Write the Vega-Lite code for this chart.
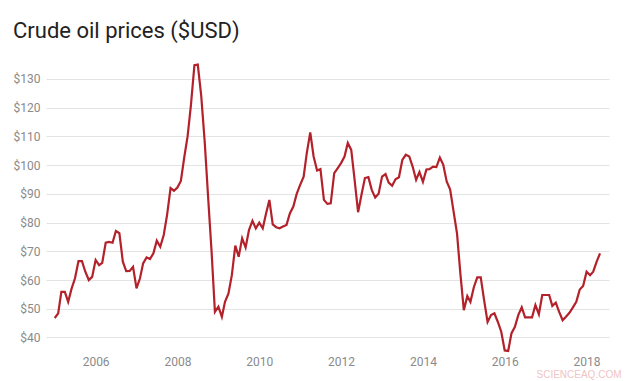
{
  "$schema": "https://vega.github.io/schema/vega-lite/v6.json",
  "width": 563,
  "height": 287,
  "autosize": {"type": "none"},
  "padding": {"left": 46, "top": 64, "right": 28, "bottom": 30},
  "background": "#ffffff",
  "config": {
    "view": {"stroke": null},
    "font": "Roboto"
  },
  "title": {
    "text": "Crude oil prices ($USD)",
    "anchor": "start",
    "frame": "bounds",
    "fontSize": 22,
    "font": "Roboto",
    "fontWeight": "normal",
    "color": "#222222",
    "offset": 17
  },
  "data": {
    "values": [
      {"date": "2005-01-01", "price": 46.8}, {"date": "2005-02-01", "price": 48.4}, {"date": "2005-03-01", "price": 55.9}, {"date": "2005-04-01", "price": 55.9},
      {"date": "2005-05-01", "price": 52.4}, {"date": "2005-06-01", "price": 57.1}, {"date": "2005-07-01", "price": 60.6}, {"date": "2005-08-01", "price": 66.6},
      {"date": "2005-09-01", "price": 66.6}, {"date": "2005-10-01", "price": 62.9}, {"date": "2005-11-01", "price": 60.0}, {"date": "2005-12-01", "price": 61.1},
      {"date": "2006-01-01", "price": 67.0}, {"date": "2006-02-01", "price": 65.2}, {"date": "2006-03-01", "price": 66.0}, {"date": "2006-04-01", "price": 73.0},
      {"date": "2006-05-01", "price": 73.3}, {"date": "2006-06-01", "price": 73.0}, {"date": "2006-07-01", "price": 77.1}, {"date": "2006-08-01", "price": 76.3},
      {"date": "2006-09-01", "price": 66.4}, {"date": "2006-10-01", "price": 63.1}, {"date": "2006-11-01", "price": 63.2}, {"date": "2006-12-01", "price": 64.6},
      {"date": "2007-01-01", "price": 57.1}, {"date": "2007-02-01", "price": 60.6}, {"date": "2007-03-01", "price": 65.8}, {"date": "2007-04-01", "price": 67.9},
      {"date": "2007-05-01", "price": 67.3}, {"date": "2007-06-01", "price": 69.3}, {"date": "2007-07-01", "price": 73.7}, {"date": "2007-08-01", "price": 71.6},
      {"date": "2007-09-01", "price": 75.7}, {"date": "2007-10-01", "price": 82.7}, {"date": "2007-11-01", "price": 92.0}, {"date": "2007-12-01", "price": 91.1},
      {"date": "2008-01-01", "price": 92.2}, {"date": "2008-02-01", "price": 94.5}, {"date": "2008-03-01", "price": 102.4}, {"date": "2008-04-01", "price": 110.0},
      {"date": "2008-05-01", "price": 121.0}, {"date": "2008-06-01", "price": 134.8}, {"date": "2008-07-01", "price": 135.0}, {"date": "2008-08-01", "price": 124.0},
      {"date": "2008-09-01", "price": 108.0}, {"date": "2008-10-01", "price": 89.0}, {"date": "2008-11-01", "price": 70.0}, {"date": "2008-12-01", "price": 48.9},
      {"date": "2009-01-01", "price": 50.7}, {"date": "2009-02-01", "price": 47.2}, {"date": "2009-03-01", "price": 52.4}, {"date": "2009-04-01", "price": 55.3},
      {"date": "2009-05-01", "price": 61.7}, {"date": "2009-06-01", "price": 72.0}, {"date": "2009-07-01", "price": 68.1}, {"date": "2009-08-01", "price": 74.5},
      {"date": "2009-09-01", "price": 71.3}, {"date": "2009-10-01", "price": 77.4}, {"date": "2009-11-01", "price": 80.6}, {"date": "2009-12-01", "price": 78.0},
      {"date": "2010-01-01", "price": 80.0}, {"date": "2010-02-01", "price": 78.0}, {"date": "2010-03-01", "price": 82.9}, {"date": "2010-04-01", "price": 87.9},
      {"date": "2010-05-01", "price": 79.4}, {"date": "2010-06-01", "price": 78.4}, {"date": "2010-07-01", "price": 78.0}, {"date": "2010-08-01", "price": 78.6},
      {"date": "2010-09-01", "price": 79.2}, {"date": "2010-10-01", "price": 83.2}, {"date": "2010-11-01", "price": 85.6}, {"date": "2010-12-01", "price": 90.0},
      {"date": "2011-01-01", "price": 93.1}, {"date": "2011-02-01", "price": 96.0}, {"date": "2011-03-01", "price": 104.2}, {"date": "2011-04-01", "price": 111.4},
      {"date": "2011-05-01", "price": 103.0}, {"date": "2011-06-01", "price": 98.1}, {"date": "2011-07-01", "price": 98.6}, {"date": "2011-08-01", "price": 87.9},
      {"date": "2011-09-01", "price": 86.5}, {"date": "2011-10-01", "price": 86.7}, {"date": "2011-11-01", "price": 97.2}, {"date": "2011-12-01", "price": 98.9},
      {"date": "2012-01-01", "price": 100.7}, {"date": "2012-02-01", "price": 103.0}, {"date": "2012-03-01", "price": 107.7}, {"date": "2012-04-01", "price": 105.3},
      {"date": "2012-05-01", "price": 94.9}, {"date": "2012-06-01", "price": 83.6}, {"date": "2012-07-01", "price": 89.6}, {"date": "2012-08-01", "price": 95.5},
      {"date": "2012-09-01", "price": 95.8}, {"date": "2012-10-01", "price": 91.4}, {"date": "2012-11-01", "price": 88.7}, {"date": "2012-12-01", "price": 90.0},
      {"date": "2013-01-01", "price": 96.0}, {"date": "2013-02-01", "price": 96.9}, {"date": "2013-03-01", "price": 93.9}, {"date": "2013-04-01", "price": 92.8},
      {"date": "2013-05-01", "price": 95.1}, {"date": "2013-06-01", "price": 95.8}, {"date": "2013-07-01", "price": 101.8}, {"date": "2013-08-01", "price": 103.6},
      {"date": "2013-09-01", "price": 103.0}, {"date": "2013-10-01", "price": 99.5}, {"date": "2013-11-01", "price": 94.9}, {"date": "2013-12-01", "price": 97.6},
      {"date": "2014-01-01", "price": 94.2}, {"date": "2014-02-01", "price": 98.5}, {"date": "2014-03-01", "price": 98.6}, {"date": "2014-04-01", "price": 99.5},
      {"date": "2014-05-01", "price": 99.3}, {"date": "2014-06-01", "price": 102.6}, {"date": "2014-07-01", "price": 100.2}, {"date": "2014-08-01", "price": 94.3},
      {"date": "2014-09-01", "price": 91.5}, {"date": "2014-10-01", "price": 84.0}, {"date": "2014-11-01", "price": 76.3}, {"date": "2014-12-01", "price": 62.3},
      {"date": "2015-01-01", "price": 49.5}, {"date": "2015-02-01", "price": 54.4}, {"date": "2015-03-01", "price": 52.4}, {"date": "2015-04-01", "price": 57.6},
      {"date": "2015-05-01", "price": 60.9}, {"date": "2015-06-01", "price": 60.9}, {"date": "2015-07-01", "price": 53.0}, {"date": "2015-08-01", "price": 45.4},
      {"date": "2015-09-01", "price": 47.8}, {"date": "2015-10-01", "price": 48.4}, {"date": "2015-11-01", "price": 45.4}, {"date": "2015-12-01", "price": 42.0},
      {"date": "2016-01-01", "price": 35.5}, {"date": "2016-02-01", "price": 35.3}, {"date": "2016-03-01", "price": 41.4}, {"date": "2016-04-01", "price": 43.7},
      {"date": "2016-05-01", "price": 47.8}, {"date": "2016-06-01", "price": 50.5}, {"date": "2016-07-01", "price": 47.0}, {"date": "2016-08-01", "price": 47.0},
      {"date": "2016-09-01", "price": 47.0}, {"date": "2016-10-01", "price": 51.3}, {"date": "2016-11-01", "price": 48.1}, {"date": "2016-12-01", "price": 54.8},
      {"date": "2017-01-01", "price": 54.8}, {"date": "2017-02-01", "price": 54.8}, {"date": "2017-03-01", "price": 51.0}, {"date": "2017-04-01", "price": 52.1},
      {"date": "2017-05-01", "price": 48.9}, {"date": "2017-06-01", "price": 46.0}, {"date": "2017-07-01", "price": 47.2}, {"date": "2017-08-01", "price": 48.6},
      {"date": "2017-09-01", "price": 50.5}, {"date": "2017-10-01", "price": 52.4}, {"date": "2017-11-01", "price": 56.7}, {"date": "2017-12-01", "price": 57.9},
      {"date": "2018-01-01", "price": 62.9}, {"date": "2018-02-01", "price": 61.7}, {"date": "2018-03-01", "price": 62.9}, {"date": "2018-04-01", "price": 66.4},
      {"date": "2018-05-01", "price": 69.3}
    ]
  },
  "mark": {"type": "line", "color": "#b3212b", "strokeWidth": 2.2, "clip": false},
  "encoding": {
    "x": {
      "field": "date",
      "type": "temporal",
      "scale": {"type": "utc", "domain": ["2004-10-15", "2018-07-20"], "nice": false},
      "axis": {
        "values": [
          {"year": 2006, "month": 1, "date": 1, "utc": true},
          {"year": 2008, "month": 1, "date": 1, "utc": true},
          {"year": 2010, "month": 1, "date": 1, "utc": true},
          {"year": 2012, "month": 1, "date": 1, "utc": true},
          {"year": 2014, "month": 1, "date": 1, "utc": true},
          {"year": 2016, "month": 1, "date": 1, "utc": true},
          {"year": 2018, "month": 1, "date": 1, "utc": true}
        ],
        "format": "%Y",
        "grid": false,
        "domain": false,
        "ticks": false,
        "labelPadding": 5,
        "labelFont": "Roboto",
        "labelFontSize": 12,
        "labelColor": "#8a8a8a",
        "title": "SCIENCEAQ.COM",
        "titleFont": "Liberation Sans",
        "titleFontSize": 10,
        "titleFontWeight": "normal",
        "titleColor": "#f0c4c4",
        "titleAnchor": "end",
        "titleAlign": "right",
        "titleBaseline": "middle",
        "titleX": 575,
        "titleY": 23.5
      }
    },
    "y": {
      "field": "price",
      "type": "quantitative",
      "scale": {"domain": [35.3, 135.2], "nice": false, "zero": false},
      "axis": {
        "values": [40, 50, 60, 70, 80, 90, 100, 110, 120, 130],
        "format": "$d",
        "grid": true,
        "gridColor": "#e3e3e3",
        "gridWidth": 1,
        "domain": false,
        "ticks": false,
        "labelPadding": 6,
        "labelFont": "Roboto",
        "labelFontSize": 12,
        "labelColor": "#8a8a8a",
        "title": null
      }
    }
  }
}
